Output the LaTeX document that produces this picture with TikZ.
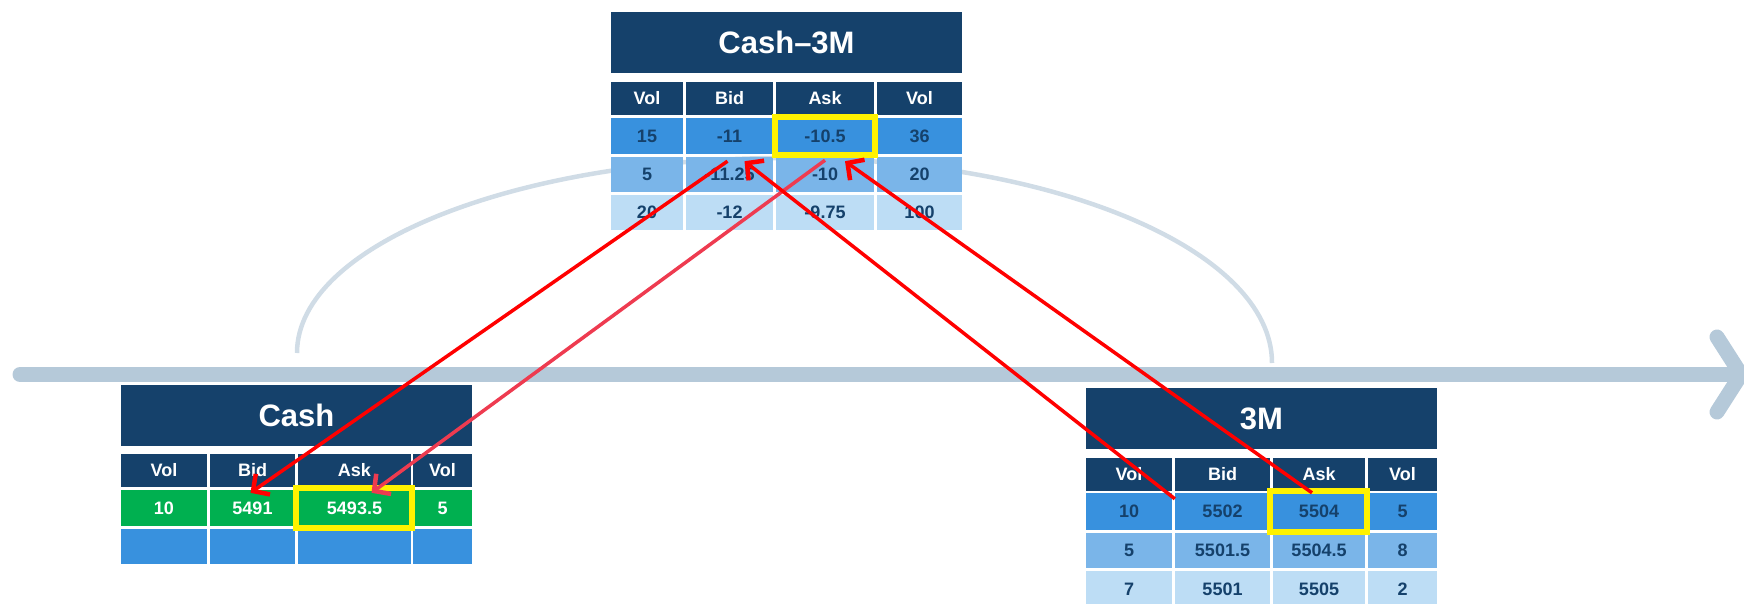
\documentclass[tikz,border=0pt]{standalone}
\usepackage{fontspec}
\setmainfont{Liberation Sans}
\usepackage{xcolor}
\usetikzlibrary{arrows.meta}

\definecolor{navy}{HTML}{15416B}
\definecolor{rowa}{HTML}{3891DE}
\definecolor{rowb}{HTML}{7AB5E9}
\definecolor{rowc}{HTML}{BDDDF5}
\definecolor{dealgreen}{HTML}{00B050}
\definecolor{axisblue}{HTML}{B5C9D9}
\definecolor{arcgrey}{HTML}{D0DCE6}
\definecolor{softred}{HTML}{EE3B50}

\begin{document}
\begin{tikzpicture}[x=1pt,y=-1pt,
	cell/.style={inner sep=0pt, font=\fontsize{18}{20}\selectfont\bfseries},
	ttl/.style={cell, fill=navy, text=white, minimum width=351pt, minimum height=61pt, font=\fontsize{31}{36}\selectfont\bfseries},
	hd/.style={cell, fill=navy, text=white, minimum height=33pt},
	ra/.style={cell, fill=rowa, text=navy},
	rb/.style={cell, fill=rowb, text=navy},
	rc/.style={cell, fill=rowc, text=navy},
	gr/.style={cell, fill=dealgreen, text=white},
	hilite/.style={draw=yellow, line width=5.5pt},
	trade/.style={draw=red, line width=3.5pt, -{Straight Barb[length=12pt,width=25pt,line width=4.5pt]}},
	axisline/.style={draw=axisblue, line width=15pt, line cap=round, line join=round}]
	\useasboundingbox (0,0) rectangle (1744,603);
	
	\draw[arcgrey, line width=4.5pt] (297,353) .. controls (297,245) and (516,158) .. (785,158)
		.. controls (1054,158) and (1272,250) .. (1272,363);
	\draw[axisline] (20,374.5) -- (1736,374.5);
	\draw[axisline] (1717,337) -- (1741,374.5) -- (1717,412);
	
	\node[ttl] (sp0) at (786.5,42.5) {Cash–3M};
	\node[hd, minimum width=72pt] (sph1) at (647,98.5) {Vol};
	\node[hd, minimum width=87pt] (sph2) at (729.5,98.5) {Bid};
	\node[hd, minimum width=98pt] (sph3) at (825,98.5) {Ask};
	\node[hd, minimum width=85pt] (sph4) at (919.5,98.5) {Vol};
	\node[ra, minimum width=72pt, minimum height=36pt] (sp11) at (647,136) {15};
	\node[ra, minimum width=87pt, minimum height=36pt] (sp12) at (729.5,136) {-11};
	\node[ra, minimum width=98pt, minimum height=36pt] (sp13) at (825,136) {-10.5};
	\node[ra, minimum width=85pt, minimum height=36pt] (sp14) at (919.5,136) {36};
	\node[rb, minimum width=72pt, minimum height=35pt] (sp21) at (647,174.5) {5};
	\node[rb, minimum width=87pt, minimum height=35pt] (sp22) at (729.5,174.5) {-11.25};
	\node[rb, minimum width=98pt, minimum height=35pt] (sp23) at (825,174.5) {-10};
	\node[rb, minimum width=85pt, minimum height=35pt] (sp24) at (919.5,174.5) {20};
	\node[rc, minimum width=72pt, minimum height=35pt] (sp31) at (647,212.5) {20};
	\node[rc, minimum width=87pt, minimum height=35pt] (sp32) at (729.5,212.5) {-12};
	\node[rc, minimum width=98pt, minimum height=35pt] (sp33) at (825,212.5) {-9.75};
	\node[rc, minimum width=85pt, minimum height=35pt] (sp34) at (919.5,212.5) {100};
	
	\node[ttl] (ca0) at (296.5,415.5) {Cash};
	\node[hd, minimum width=86pt] (cah1) at (164,470.5) {Vol};
	\node[hd, minimum width=85pt] (cah2) at (252.5,470.5) {Bid};
	\node[hd, minimum width=113pt] (cah3) at (354.5,470.5) {Ask};
	\node[hd, minimum width=59pt] (cah4) at (442.5,470.5) {Vol};
	\node[gr, minimum width=86pt, minimum height=36pt] (ca11) at (164,508) {10};
	\node[gr, minimum width=85pt, minimum height=36pt] (ca12) at (252.5,508) {5491};
	\node[gr, minimum width=113pt, minimum height=36pt] (ca13) at (354.5,508) {5493.5};
	\node[gr, minimum width=59pt, minimum height=36pt] (ca14) at (442.5,508) {5};
	\node[ra, minimum width=86pt, minimum height=35pt] (ca21) at (164,546.5) {};
	\node[ra, minimum width=85pt, minimum height=35pt] (ca22) at (252.5,546.5) {};
	\node[ra, minimum width=113pt, minimum height=35pt] (ca23) at (354.5,546.5) {};
	\node[ra, minimum width=59pt, minimum height=35pt] (ca24) at (442.5,546.5) {};
	
	\node[ttl] (tm0) at (1261.5,418.5) {3M};
	\node[hd, minimum width=86pt] (tmh1) at (1129,474.5) {Vol};
	\node[hd, minimum width=95pt] (tmh2) at (1222.5,474.5) {Bid};
	\node[hd, minimum width=92pt] (tmh3) at (1319,474.5) {Ask};
	\node[hd, minimum width=69pt] (tmh4) at (1402.5,474.5) {Vol};
	\node[ra, minimum width=86pt, minimum height=37pt] (tm11) at (1129,511.5) {10};
	\node[ra, minimum width=95pt, minimum height=37pt] (tm12) at (1222.5,511.5) {5502};
	\node[ra, minimum width=92pt, minimum height=37pt] (tm13) at (1319,511.5) {5504};
	\node[ra, minimum width=69pt, minimum height=37pt] (tm14) at (1402.5,511.5) {5};
	\node[rb, minimum width=86pt, minimum height=35pt] (tm21) at (1129,550.5) {5};
	\node[rb, minimum width=95pt, minimum height=35pt] (tm22) at (1222.5,550.5) {5501.5};
	\node[rb, minimum width=92pt, minimum height=35pt] (tm23) at (1319,550.5) {5504.5};
	\node[rb, minimum width=69pt, minimum height=35pt] (tm24) at (1402.5,550.5) {8};
	\node[rc, minimum width=86pt, minimum height=36pt] (tm31) at (1129,589) {7};
	\node[rc, minimum width=95pt, minimum height=36pt] (tm32) at (1222.5,589) {5501};
	\node[rc, minimum width=92pt, minimum height=36pt] (tm33) at (1319,589) {5505};
	\node[rc, minimum width=69pt, minimum height=36pt] (tm34) at (1402.5,589) {2};
	
	\draw[hilite] ([xshift=-1pt,yshift=1pt]sp13.north west) rectangle ([xshift=1pt,yshift=-1pt]sp13.south east);
	\draw[hilite] ([xshift=-2pt,yshift=2pt]ca13.north west) rectangle ([xshift=1pt,yshift=-2pt]ca13.south east);
	\draw[hilite] ([xshift=-3pt,yshift=2pt]tm13.north west) rectangle ([xshift=2pt,yshift=-2pt]tm13.south east);
	
	\draw[trade] ([xshift=-2pt,yshift=-7pt]sp12.south) -- ([xshift=-2pt,yshift=-3pt]ca12.north);
	\draw[trade, draw=softred] ([yshift=-6pt]sp13.south) -- ([xshift=17pt,yshift=-3pt]ca13.north);
	\draw[trade] ([yshift=-6pt]tm12.north west) -- ([xshift=15pt,yshift=-7pt]sp12.south);
	\draw[trade] ([xshift=-7pt]tm13.north) -- ([xshift=20pt,yshift=-7pt]sp13.south);
\end{tikzpicture}
\end{document}
